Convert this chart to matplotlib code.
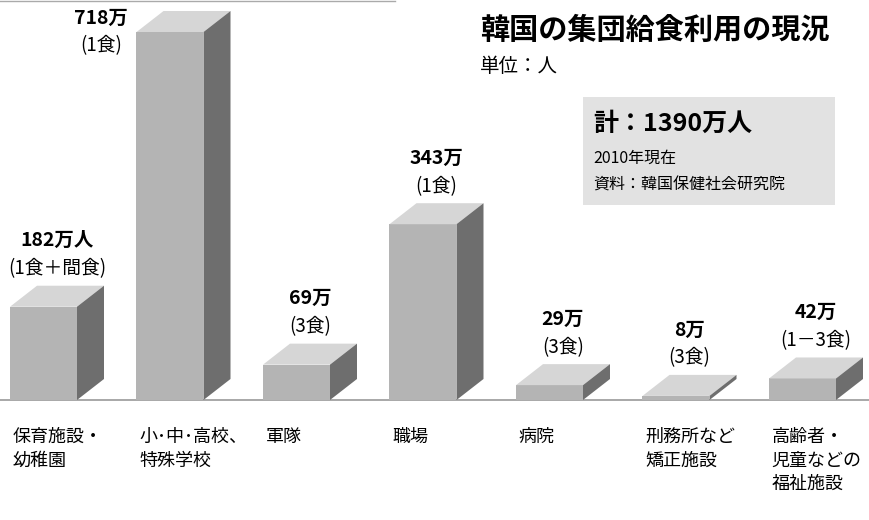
import matplotlib
matplotlib.use("Agg")
import matplotlib.pyplot as plt
from matplotlib.patches import Polygon, Rectangle

plt.rcParams['font.family'] = ['Noto Sans CJK JP', 'DejaVu Sans']

categories = ["保育施設・\n幼稚園", "小･中･高校、\n特殊学校", "軍隊", "職場", "病院", "刑務所など\n矯正施設", "高齢者・\n児童などの\n福祉施設"]
values = [182, 718, 69, 343, 29, 8, 42]
value_labels = ["182万人", "718万", "69万", "343万", "29万", "8万", "42万"]
meal_labels = ["(1食＋間食)", "(1食)", "(3食)", "(1食)", "(3食)", "(3食)", "(1－3食)"]

fig = plt.figure(figsize=(8.7, 5.2), dpi=100)
ax = fig.add_axes([0, 0, 1, 1])
PX = 0.5125  # px per unit
SP = 126.5
ax.set_xlim(-10 / SP, 860 / SP)
ax.set_ylim(-120 / PX, 400 / PX)
ax.axis('off')

w = 67 / SP
dx = 27 / SP
dy = 21 / PX
ax.plot([-1, 8], [0, 0], color='#999999', lw=1.2, zorder=0)
ax.plot([-1, 385 / SP], [400 / PX - 1, 400 / PX - 1], color='#aaaaaa', lw=1)

for i, v in enumerate(values):
    x0 = i
    ax.add_patch(Rectangle((x0, 0), w, v, facecolor='#b4b4b4', edgecolor='none', zorder=2))
    ax.add_patch(Polygon([(x0, v), (x0 + w, v), (x0 + w + dx, v + dy), (x0 + dx, v + dy)],
                         facecolor='#d6d6d6', edgecolor='none', zorder=2))
    ax.add_patch(Polygon([(x0 + w, 0), (x0 + w + dx, dy), (x0 + w + dx, v + dy), (x0 + w, v)],
                         facecolor='#6e6e6e', edgecolor='none', zorder=2))
    if i == 1:
        cx, ytop = i - 0.28, 400 / PX - 18 / PX
    else:
        cx, ytop = i + w / 2 + dx / 2, v + dy + 45 / PX
    ax.text(cx, ytop, value_labels[i], ha='center', va='center', fontsize=14, fontweight='bold')
    ax.text(cx, ytop - 28 / PX, meal_labels[i], ha='center', va='center', fontsize=13.5)
    ax.text(x0 + 0.02, -28 / PX, categories[i], ha='left', va='top', fontsize=13, linespacing=1.4)

fig.text(480 / 870, 1 - 30 / 520, "韓国の集団給食利用の現況", fontsize=21, fontweight='bold', ha='left', va='center')
fig.text(480 / 870, 1 - 66 / 520, "単位：人", fontsize=14, ha='left', va='center')
fig.patches.append(Rectangle((583 / 870, 1 - 205 / 520), 252 / 870, 108 / 520, transform=fig.transFigure,
                             facecolor='#e2e2e2', edgecolor='none'))
fig.text(593 / 870, 1 - 124 / 520, "計：1390万人", fontsize=18, fontweight='bold', ha='left', va='center')
fig.text(593 / 870, 1 - 158 / 520, "2010年現在", fontsize=11.5, ha='left', va='center')
fig.text(593 / 870, 1 - 185 / 520, "資料：韓国保健社会研究院", fontsize=11.5, ha='left', va='center')

fig.savefig("out.png", dpi=100)
